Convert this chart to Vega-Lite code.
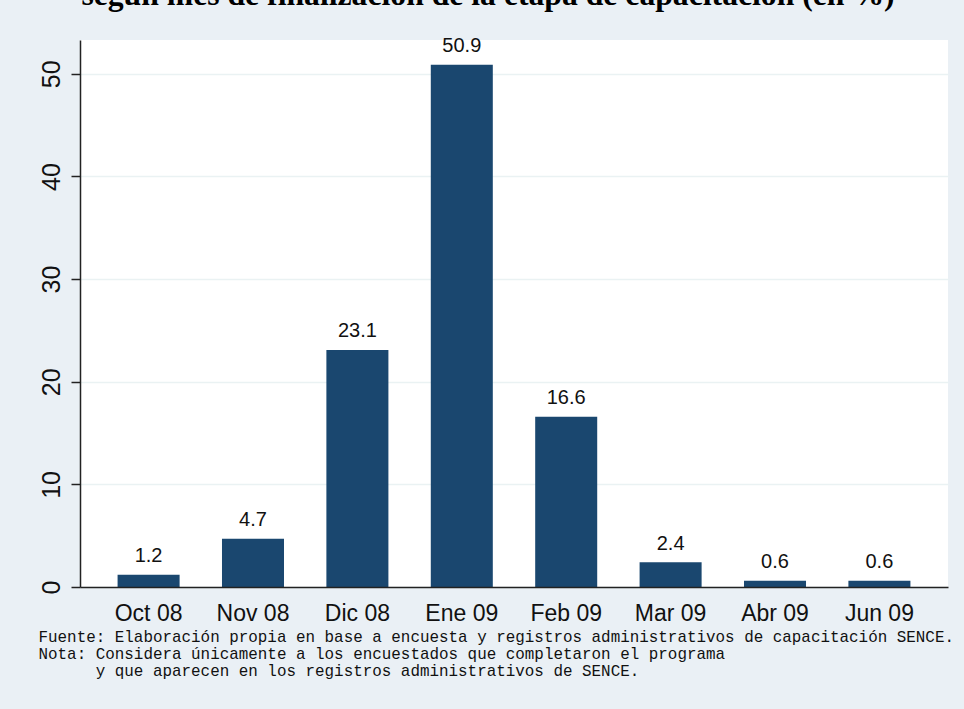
{
  "$schema": "https://vega.github.io/schema/vega-lite/v6.json",
  "width": 868,
  "height": 547,
  "autosize": "none",
  "padding": {"left": 80, "top": 40, "right": 16, "bottom": 122},
  "background": "#EAF0F5",
  "title": {
    "text": "según mes de finalización de la etapa de capacitación (en %)",
    "font": "Liberation Serif",
    "fontSize": 31.7,
    "fontWeight": "bold",
    "color": "#000000",
    "anchor": "middle",
    "frame": "group",
    "dx": -26,
    "dy": 21,
    "baseline": "alphabetic",
    "offset": 20
  },
  "config": {
    "view": {"fill": "#FFFFFF", "stroke": null},
    "font": "Liberation Sans"
  },
  "data": {
    "values": [
      {"mes": "Oct 08", "pct": 1.2},
      {"mes": "Nov 08", "pct": 4.7},
      {"mes": "Dic 08", "pct": 23.1},
      {"mes": "Ene 09", "pct": 50.9},
      {"mes": "Feb 09", "pct": 16.6},
      {"mes": "Mar 09", "pct": 2.4},
      {"mes": "Abr 09", "pct": 0.6},
      {"mes": "Jun 09", "pct": 0.6}
    ]
  },
  "encoding": {
    "x": {
      "field": "mes",
      "type": "nominal",
      "sort": null,
      "scale": {"paddingInner": 0.406, "paddingOuter": 0.36},
      "axis": {
        "zindex": 1,
        "title": [
          "Fuente: Elaboración propia en base a encuesta y registros administrativos de capacitación SENCE.",
          "Nota: Considera únicamente a los encuestados que completaron el programa",
          "\u200b\u00a0\u00a0\u00a0\u00a0\u00a0\u00a0y que aparecen en los registros administrativos de SENCE."
        ],
        "titleFont": "Liberation Mono",
        "titleFontSize": 15.9,
        "titleFontWeight": "normal",
        "titleColor": "#111111",
        "titleAnchor": "start",
        "titleAlign": "left",
        "titleBaseline": "alphabetic",
        "titleX": -42,
        "titleY": 54,
        "titleLineHeight": 17,
        "labelAngle": 0,
        "labelFontSize": 23,
        "labelColor": "#111111",
        "labelBaseline": "alphabetic",
        "labelPadding": 33,
        "ticks": false,
        "tickSize": 0,
        "domainColor": "#222222",
        "domainWidth": 1.5,
        "grid": false
      }
    },
    "y": {
      "field": "pct",
      "type": "quantitative",
      "scale": {"domain": [0, 53.3], "nice": false},
      "axis": {
        "title": null,
        "values": [0, 10, 20, 30, 40, 50],
        "labelAngle": 270,
        "labelAlign": "center",
        "labelBaseline": "alphabetic",
        "labelFontSize": 25,
        "labelColor": "#111111",
        "labelPadding": 12,
        "tickSize": 9,
        "tickColor": "#222222",
        "tickWidth": 1.5,
        "domainColor": "#222222",
        "domainWidth": 1.5,
        "grid": true,
        "gridColor": "#EAF2F3",
        "gridWidth": 1.5
      }
    }
  },
  "layer": [
    {"mark": {"type": "bar", "color": "#1A476F"}},
    {
      "mark": {"type": "text", "baseline": "alphabetic", "dy": -12.5, "fontSize": 20, "color": "#111111"},
      "encoding": {"text": {"field": "pct", "type": "quantitative", "format": ".1f"}}
    }
  ]
}
